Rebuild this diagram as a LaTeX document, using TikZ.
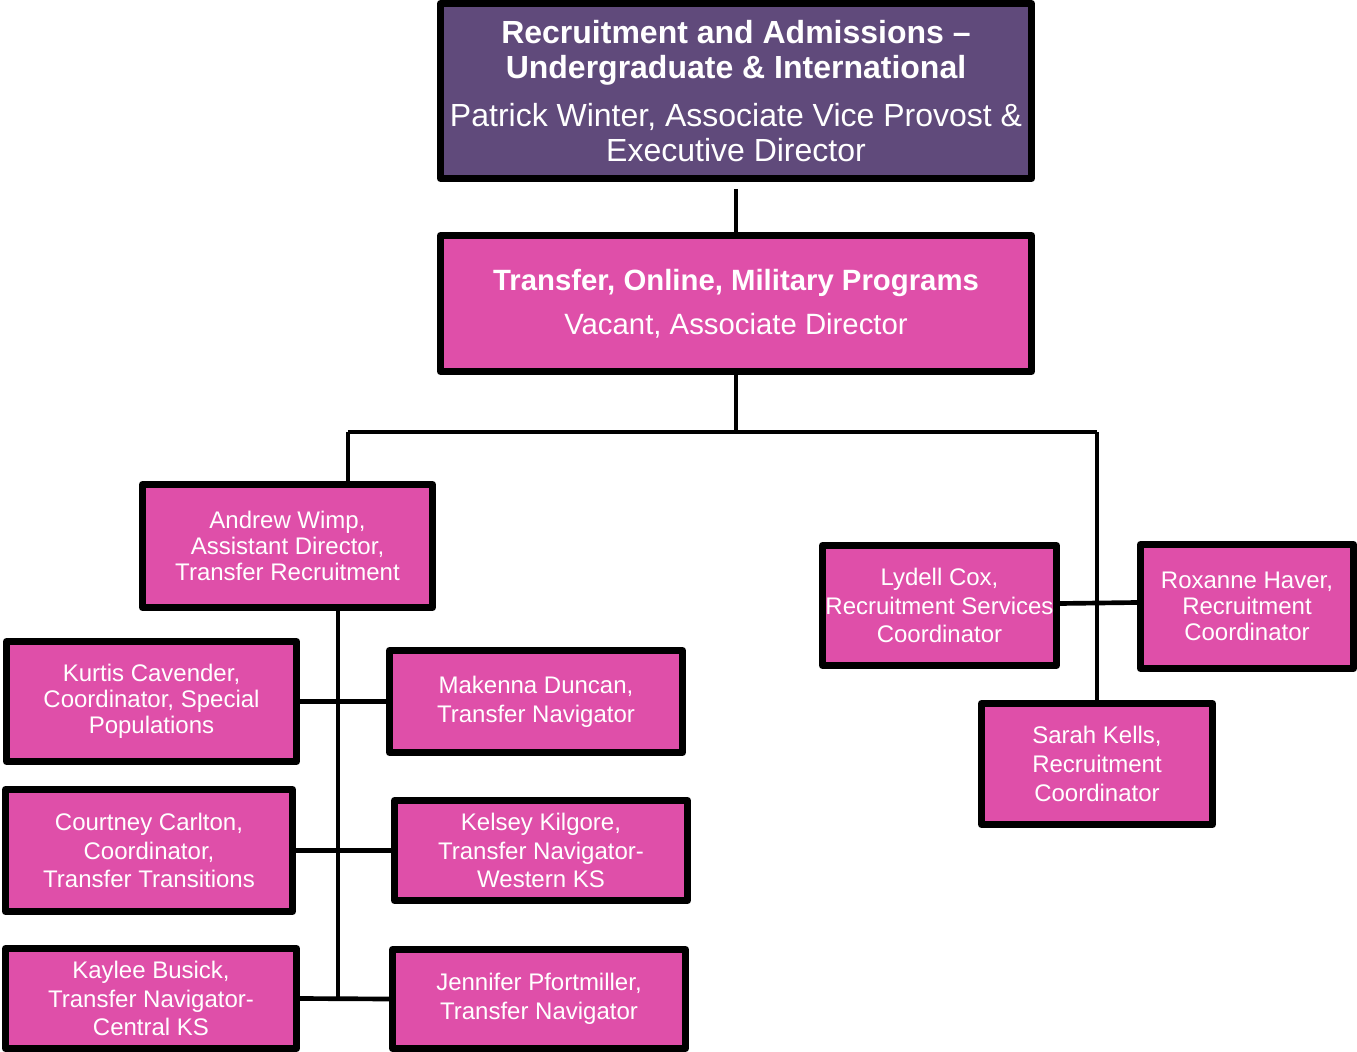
\documentclass[tikz,border=0pt]{standalone}
\usepackage{fontspec}
\setmainfont{Liberation Sans}
\definecolor{deanPurple}{HTML}{604A7B}
\definecolor{staffPink}{HTML}{DF4FA9}
\tikzset{every picture/.style={line width=0.75pt}}
\tikzset{
  unitbox/.style={draw=black, line width=5.25pt, line join=round, fill=staffPink, text=white, align=center, inner sep=0pt},
  headbox/.style={unitbox, font=\fontsize{22}{33}\selectfont},
  staffbox/.style={unitbox, font=\fontsize{18}{21.5}\selectfont},
  tightbox/.style={unitbox, font=\fontsize{18}{19.5}\selectfont},
  link/.style={draw=black, line width=3.5pt}
}

\begin{document}
\begin{tikzpicture}[x=0.75pt,y=0.75pt,yscale=-1,xscale=1]
\useasboundingbox (0,0) rectangle (1357,1052);

%Shape: Rectangle [id:exec] 
\node [unitbox, fill=deanPurple, font=\fontsize{24}{26}\selectfont, minimum width=443.25pt, minimum height=131.25pt] (exec) at (736,91) {\textbf{Recruitment and Admissions –}\\ \textbf{Undergraduate \& International}\\[10pt] Patrick Winter, Associate Vice Provost \&\\ Executive Director};
%Shape: Rectangle [id:tomp] 
\node [headbox, minimum width=443.25pt, minimum height=102pt] (tomp) at (736,303.5) {\textbf{Transfer, Online, Military Programs}\\ Vacant, Associate Director};

%Shape: Rectangle [id:wimp] 
\node [tightbox, minimum width=217.5pt, minimum height=92.25pt] (wimp) at (287.5,546) {Andrew Wimp,\\ Assistant Director,\\ Transfer Recruitment};
%Shape: Rectangle [id:cavender] 
\node [tightbox, minimum width=217.5pt, minimum height=90pt] (cavender) at (151.5,701.5) {Kurtis Cavender,\\ Coordinator, Special\\ Populations};
%Shape: Rectangle [id:duncan] 
\node [staffbox, minimum width=219.75pt, minimum height=76.5pt] (duncan) at (536,701.5) {Makenna Duncan,\\ Transfer Navigator};
%Shape: Rectangle [id:carlton] 
\node [staffbox, minimum width=215.25pt, minimum height=91.5pt] (carlton) at (149,850.5) {Courtney Carlton,\\ Coordinator,\\ Transfer Transitions};
%Shape: Rectangle [id:kilgore] 
\node [staffbox, minimum width=219.75pt, minimum height=75pt] (kilgore) at (541,850.5) {Kelsey Kilgore,\\ Transfer Navigator-\\ Western KS};
%Shape: Rectangle [id:busick] 
\node [staffbox, minimum width=218.25pt, minimum height=75pt] (busick) at (151,998.5) {Kaylee Busick,\\ Transfer Navigator-\\ Central KS};
%Shape: Rectangle [id:pfortmiller] 
\node [staffbox, minimum width=219.75pt, minimum height=74.25pt] (pfortmiller) at (539,999) {Jennifer Pfortmiller,\\ Transfer Navigator};

%Shape: Rectangle [id:cox] 
\node [staffbox, minimum width=175.5pt, minimum height=90pt] (cox) at (939.5,605.5) {Lydell Cox,\\ Recruitment Services\\ Coordinator};
%Shape: Rectangle [id:haver] 
\node [tightbox, minimum width=159.75pt, minimum height=93pt] (haver) at (1247,606.5) {Roxanne Haver,\\ Recruitment\\ Coordinator};
%Shape: Rectangle [id:kells] 
\node [staffbox, minimum width=173.25pt, minimum height=90.75pt] (kells) at (1097,764) {Sarah Kells,\\ Recruitment\\ Coordinator};

%Coordinates 
\coordinate (bus) at (736,432);
\coordinate (busL) at (348,432);
\coordinate (busR) at (1097,432);
\coordinate (spine) at (338,998);

%Straight Lines 
\draw [link, shorten <=5.25pt] (exec.south) -- (tomp.north);
\draw [link] (tomp.south) -- (bus);
\draw [link] (busL) -- (busR);
\draw [link] (busL) -- (busL |- wimp.north);
\draw [link] (busR) -- (kells.north);
\draw [link] (spine |- wimp.south) -- (spine);
\draw [link] (cavender.east) -- (duncan.west);
\draw [link] (carlton.east) -- (kilgore.west);
\draw [link] (busick.east) -- (pfortmiller.west);
\draw [link] ([yshift=-1.5pt]cox.east) -- ([yshift=-3pt]haver.west);

\end{tikzpicture}
\end{document}
